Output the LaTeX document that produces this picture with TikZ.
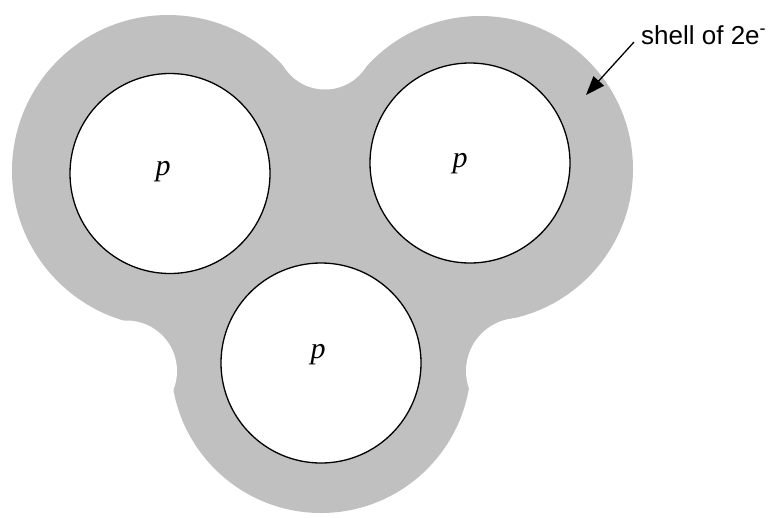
\documentclass[tikz,border=0pt]{standalone}
\usepackage{fontspec}
\setmainfont{Liberation Serif}
\newfontfamily\arialfont{Liberation Sans}
\usetikzlibrary{arrows.meta}
\definecolor{shellgray}{RGB}{192,192,192}
\tikzset{
  proton/.style={circle, draw=black, fill=white, line width=1.3pt, minimum size=200pt, inner sep=0pt},
  plabel/.style={font=\fontsize{30}{30}\selectfont\itshape, inner sep=0pt},
  shelllabel/.style={font=\arialfont\fontsize{26}{26}\selectfont, inner sep=0pt, anchor=base west},
  pointer/.style={line width=1.3pt, -{Triangle[length=19pt,width=14pt]}}
}
\begin{document}
\begin{tikzpicture}[x=1pt,y=-1pt]
\useasboundingbox (0,0) rectangle (773,517);
% shell centres
\coordinate (o1) at (168,171);
\coordinate (o2) at (480,169);
\coordinate (o3) at (321,363);
\coordinate (ft) at (325,41);
\coordinate (fl) at (126.5,371);
\coordinate (fr) at (519,371);
% shell
\fill[shellgray] (o1) circle[radius=156];
\fill[shellgray] (o2) circle[radius=153];
\fill[shellgray] (o3) circle[radius=150];
\fill[shellgray] (o1) -- (ft) -- (o2) -- (fr) -- (o3) -- (fl) -- cycle;
% notches
\fill[white] (ft) circle[radius=48.5];
\fill[white] (fl) circle[radius=50.5];
\fill[white] (fr) circle[radius=53];
% protons
\node[proton] (c1) at (170,173.5) {};
\node[proton] (c2) at (470,163) {};
\node[proton] (c3) at (321,363) {};
\node[plabel] (p1) at (163,172) {p};
\node[plabel] (p2) at (460,164) {p};
\node[plabel] (p3) at (318,355) {p};
% label
\node[shelllabel] (lbl) at (641,44) {shell of 2e\textsuperscript{-}};
\coordinate (a0) at (634,42);
\coordinate (a1) at (586,95);
\draw[pointer] (a0) -- (a1);
\end{tikzpicture}
\end{document}
